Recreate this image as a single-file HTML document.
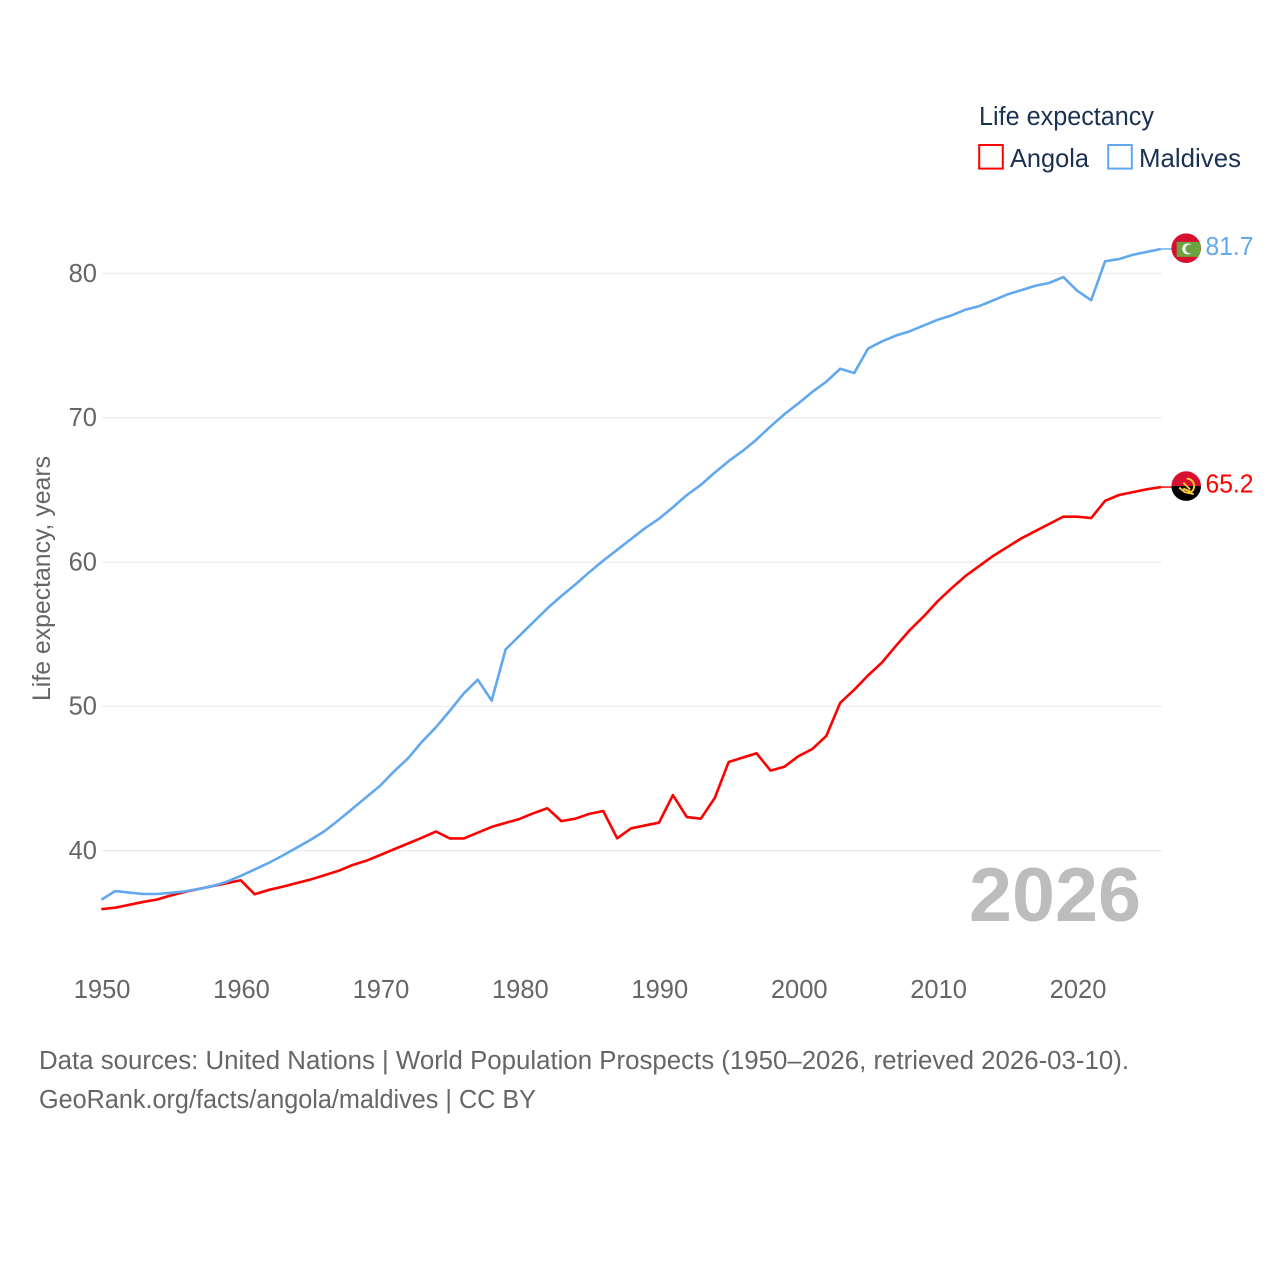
<!DOCTYPE html>
<html lang="en">
<head>
<meta charset="utf-8">
<title>Life expectancy: Angola vs Maldives</title>
<style>
html,body{margin:0;padding:0;background:#fff;width:1280px;height:1280px;overflow:hidden}
svg{display:block}
text{font-family:"Liberation Sans",sans-serif}
</style>
</head>
<body>
<svg id="chart" xmlns="http://www.w3.org/2000/svg" width="1280" height="1280" viewBox="0 0 1280 1280">
  <g id="grid"></g>
  <g id="yticks"></g>
  <g id="xticks"></g>
  <text transform="translate(50,701) rotate(-90)" font-size="25" fill="#666" textLength="245" lengthAdjust="spacingAndGlyphs">Life expectancy, years</text>
  <text x="969" y="921" font-size="76" font-weight="700" fill="#bdbdbd" textLength="172" lengthAdjust="spacingAndGlyphs">2026</text>
  <g id="series"></g>
  <g>
    <text x="979" y="125" font-size="25.5" fill="#1a3152" textLength="175" lengthAdjust="spacingAndGlyphs">Life expectancy</text>
    <rect x="979.2" y="145" width="23.6" height="23.6" fill="none" stroke="#ff0000" stroke-width="2"></rect>
    <text x="1010" y="167" font-size="26" fill="#1a3152" textLength="79" lengthAdjust="spacingAndGlyphs">Angola</text>
    <rect x="1108.2" y="145" width="23.6" height="23.6" fill="none" stroke="#61a8ee" stroke-width="2"></rect>
    <text x="1139" y="167" font-size="26" fill="#1a3152" textLength="102" lengthAdjust="spacingAndGlyphs">Maldives</text>
  </g>
  <g>
    <text x="39" y="1069" font-size="25.5" fill="#666" textLength="1090" lengthAdjust="spacingAndGlyphs">Data sources: United Nations | World Population Prospects (1950–2026, retrieved 2026-03-10).</text>
    <text x="39" y="1108" font-size="25.5" fill="#666" textLength="497" lengthAdjust="spacingAndGlyphs">GeoRank.org/facts/angola/maldives | CC BY</text>
  </g>
  <defs>
    <clipPath id="clip-mv"><circle cx="0" cy="0" r="14.8"></circle></clipPath>
    <clipPath id="clip-ao"><circle cx="0" cy="0" r="14.8"></circle></clipPath>
  </defs>
  <g id="flag-maldives">
    <g clip-path="url(#clip-mv)">
      <rect x="-15" y="-15" width="30" height="30" fill="#d8102f"></rect>
      <rect x="-9.5" y="-6.3" width="24" height="15" fill="#6ba340"></rect>
      <circle cx="1.5" cy="0.7" r="5.5" fill="#f4f4f4"></circle>
      <circle cx="3.6" cy="0.7" r="4.4" fill="#6ba340"></circle>
    </g>
  </g>
  <g id="flag-angola">
    <g clip-path="url(#clip-ao)">
      <rect x="-15" y="-15" width="30" height="15" fill="#d8102f"></rect>
      <rect x="-15" y="0" width="30" height="15" fill="#000"></rect>
      <path d="M0.5 -7.5 A7.5 7.5 0 0 1 5 6 L-3 2.5" fill="none" stroke="#f5c842" stroke-width="2"></path>
      <path d="M-7 1.5 L-1.5 6 L7.5 8" fill="none" stroke="#f5c842" stroke-width="2"></path>
      <path d="M-3 -3.5 L4 3.5" fill="none" stroke="#f5c842" stroke-width="1.8"></path>
    </g>
  </g>
  <g id="values"></g>
</svg>
<script>
const years = [1950,1951,1952,1953,1954,1955,1956,1957,1958,1959,1960,1961,1962,1963,1964,1965,1966,1967,1968,1969,1970,1971,1972,1973,1974,1975,1976,1977,1978,1979,1980,1981,1982,1983,1984,1985,1986,1987,1988,1989,1990,1991,1992,1993,1994,1995,1996,1997,1998,1999,2000,2001,2002,2003,2004,2005,2006,2007,2008,2009,2010,2011,2012,2013,2014,2015,2016,2017,2018,2019,2020,2021,2022,2023,2024,2025,2026];
const angola = [35.95,36.05,36.25,36.45,36.62,36.9,37.15,37.35,37.55,37.75,37.95,36.98,37.28,37.5,37.75,38.0,38.3,38.6,39.0,39.3,39.7,40.1,40.5,40.9,41.33,40.85,40.85,41.25,41.65,41.93,42.2,42.6,42.94,42.05,42.22,42.55,42.75,40.86,41.55,41.75,41.94,43.85,42.33,42.22,43.65,46.15,46.45,46.75,45.55,45.82,46.55,47.05,47.95,50.25,51.15,52.15,53.05,54.2,55.3,56.25,57.3,58.2,59.05,59.75,60.45,61.05,61.65,62.15,62.65,63.15,63.15,63.05,64.25,64.65,64.85,65.05,65.2];
const maldives = [36.6,37.2,37.1,37.0,37.0,37.08,37.18,37.35,37.55,37.85,38.25,38.7,39.15,39.66,40.2,40.75,41.35,42.1,42.9,43.7,44.5,45.5,46.4,47.55,48.55,49.7,50.9,51.85,50.4,53.95,54.9,55.85,56.8,57.65,58.45,59.3,60.1,60.85,61.6,62.35,63.0,63.8,64.65,65.35,66.2,67.0,67.7,68.5,69.4,70.25,71.0,71.8,72.5,73.4,73.1,74.8,75.3,75.7,76.0,76.4,76.8,77.1,77.5,77.75,78.15,78.55,78.85,79.15,79.35,79.75,78.8,78.15,80.85,81.0,81.3,81.5,81.7];
const yTickValues = [40,50,60,70,80];
const xTickValues = [1950,1960,1970,1980,1990,2000,2010,2020];

const SVG_NS = 'http://www.w3.org/2000/svg';
const plot = {x0: 101.3, x1: 1160.9, y40: 850.7, y80: 273.5, gridLeft: 102, gridRight: 1161.8};
function xScale(year) { return plot.x0 + (year - 1950) * (plot.x1 - plot.x0) / 76; }
function yScale(value) { return plot.y40 - (value - 40) * (plot.y40 - plot.y80) / 40; }

function make(tag, props, parent) {
  const el = document.createElementNS(SVG_NS, tag);
  for (const k in props) el.setAttribute(k, props[k]);
  parent.appendChild(el);
  return el;
}

const gridG = document.getElementById('grid');
const yG = document.getElementById('yticks');
yTickValues.forEach(function (v) {
  const line = make('line', {x1: plot.gridLeft, x2: plot.gridRight, y1: yScale(v), y2: yScale(v), stroke: '#ececec', 'stroke-width': 1.3}, gridG);
  
  
  const t = make('text', {x: 97, y: yScale(v) + 8.3, 'font-size': 25.5, fill: '#666', 'text-anchor': 'end'}, yG);
  
  
  t.textContent = v;
});

const xG = document.getElementById('xticks');
xTickValues.forEach(function (yr) {
  const t = make('text', {x: xScale(yr) + 0.8, y: 998, 'font-size': 25.5, fill: '#666', 'text-anchor': 'middle'}, xG);
  
  
  t.textContent = yr;
});

const seriesG = document.getElementById('series');
function linePath(values) {
  return values.map(function (v, i) {
    return (i ? 'L' : 'M') + xScale(years[i]).toFixed(2) + ' ' + yScale(v).toFixed(2);
  }).join(' ');
}

const angolaLine = make('path', {d: linePath(angola), fill: 'none', stroke: '#ff0000', 'stroke-width': 2.6, 'stroke-linejoin': 'round'}, seriesG);



const maldivesLine = make('path', {d: linePath(maldives), fill: 'none', stroke: '#61a8ee', 'stroke-width': 2.6, 'stroke-linejoin': 'round'}, seriesG);



const lastA = angola[angola.length - 1];
const lastM = maldives[maldives.length - 1];

const connA = make('line', {x1: plot.x1, x2: 1172, y1: yScale(lastA), y2: yScale(lastA), stroke: '#ff0000', 'stroke-width': 1.4}, seriesG);



const connM = make('line', {x1: plot.x1, x2: 1172, y1: yScale(lastM), y2: yScale(lastM), stroke: '#61a8ee', 'stroke-width': 1.4}, seriesG);



document.getElementById('flag-angola').setAttribute('transform', 'translate(1186.2,' + (yScale(lastA) - 1) + ')');
document.getElementById('flag-maldives').setAttribute('transform', 'translate(1186.2,' + (yScale(lastM) - 0.8) + ')');

const valuesG = document.getElementById('values');
const valA = make('text', {x: 1205.5, y: yScale(lastA) + 5.6, 'font-size': 25.5, fill: '#ff0000', textLength: 48, lengthAdjust: 'spacingAndGlyphs'}, valuesG);


valA.textContent = lastA.toFixed(1);

const valM = make('text', {x: 1205.5, y: yScale(lastM) + 6, 'font-size': 25.5, fill: '#61a8ee', textLength: 48, lengthAdjust: 'spacingAndGlyphs'}, valuesG);


valM.textContent = lastM.toFixed(1);
</script>
</body>
</html>
